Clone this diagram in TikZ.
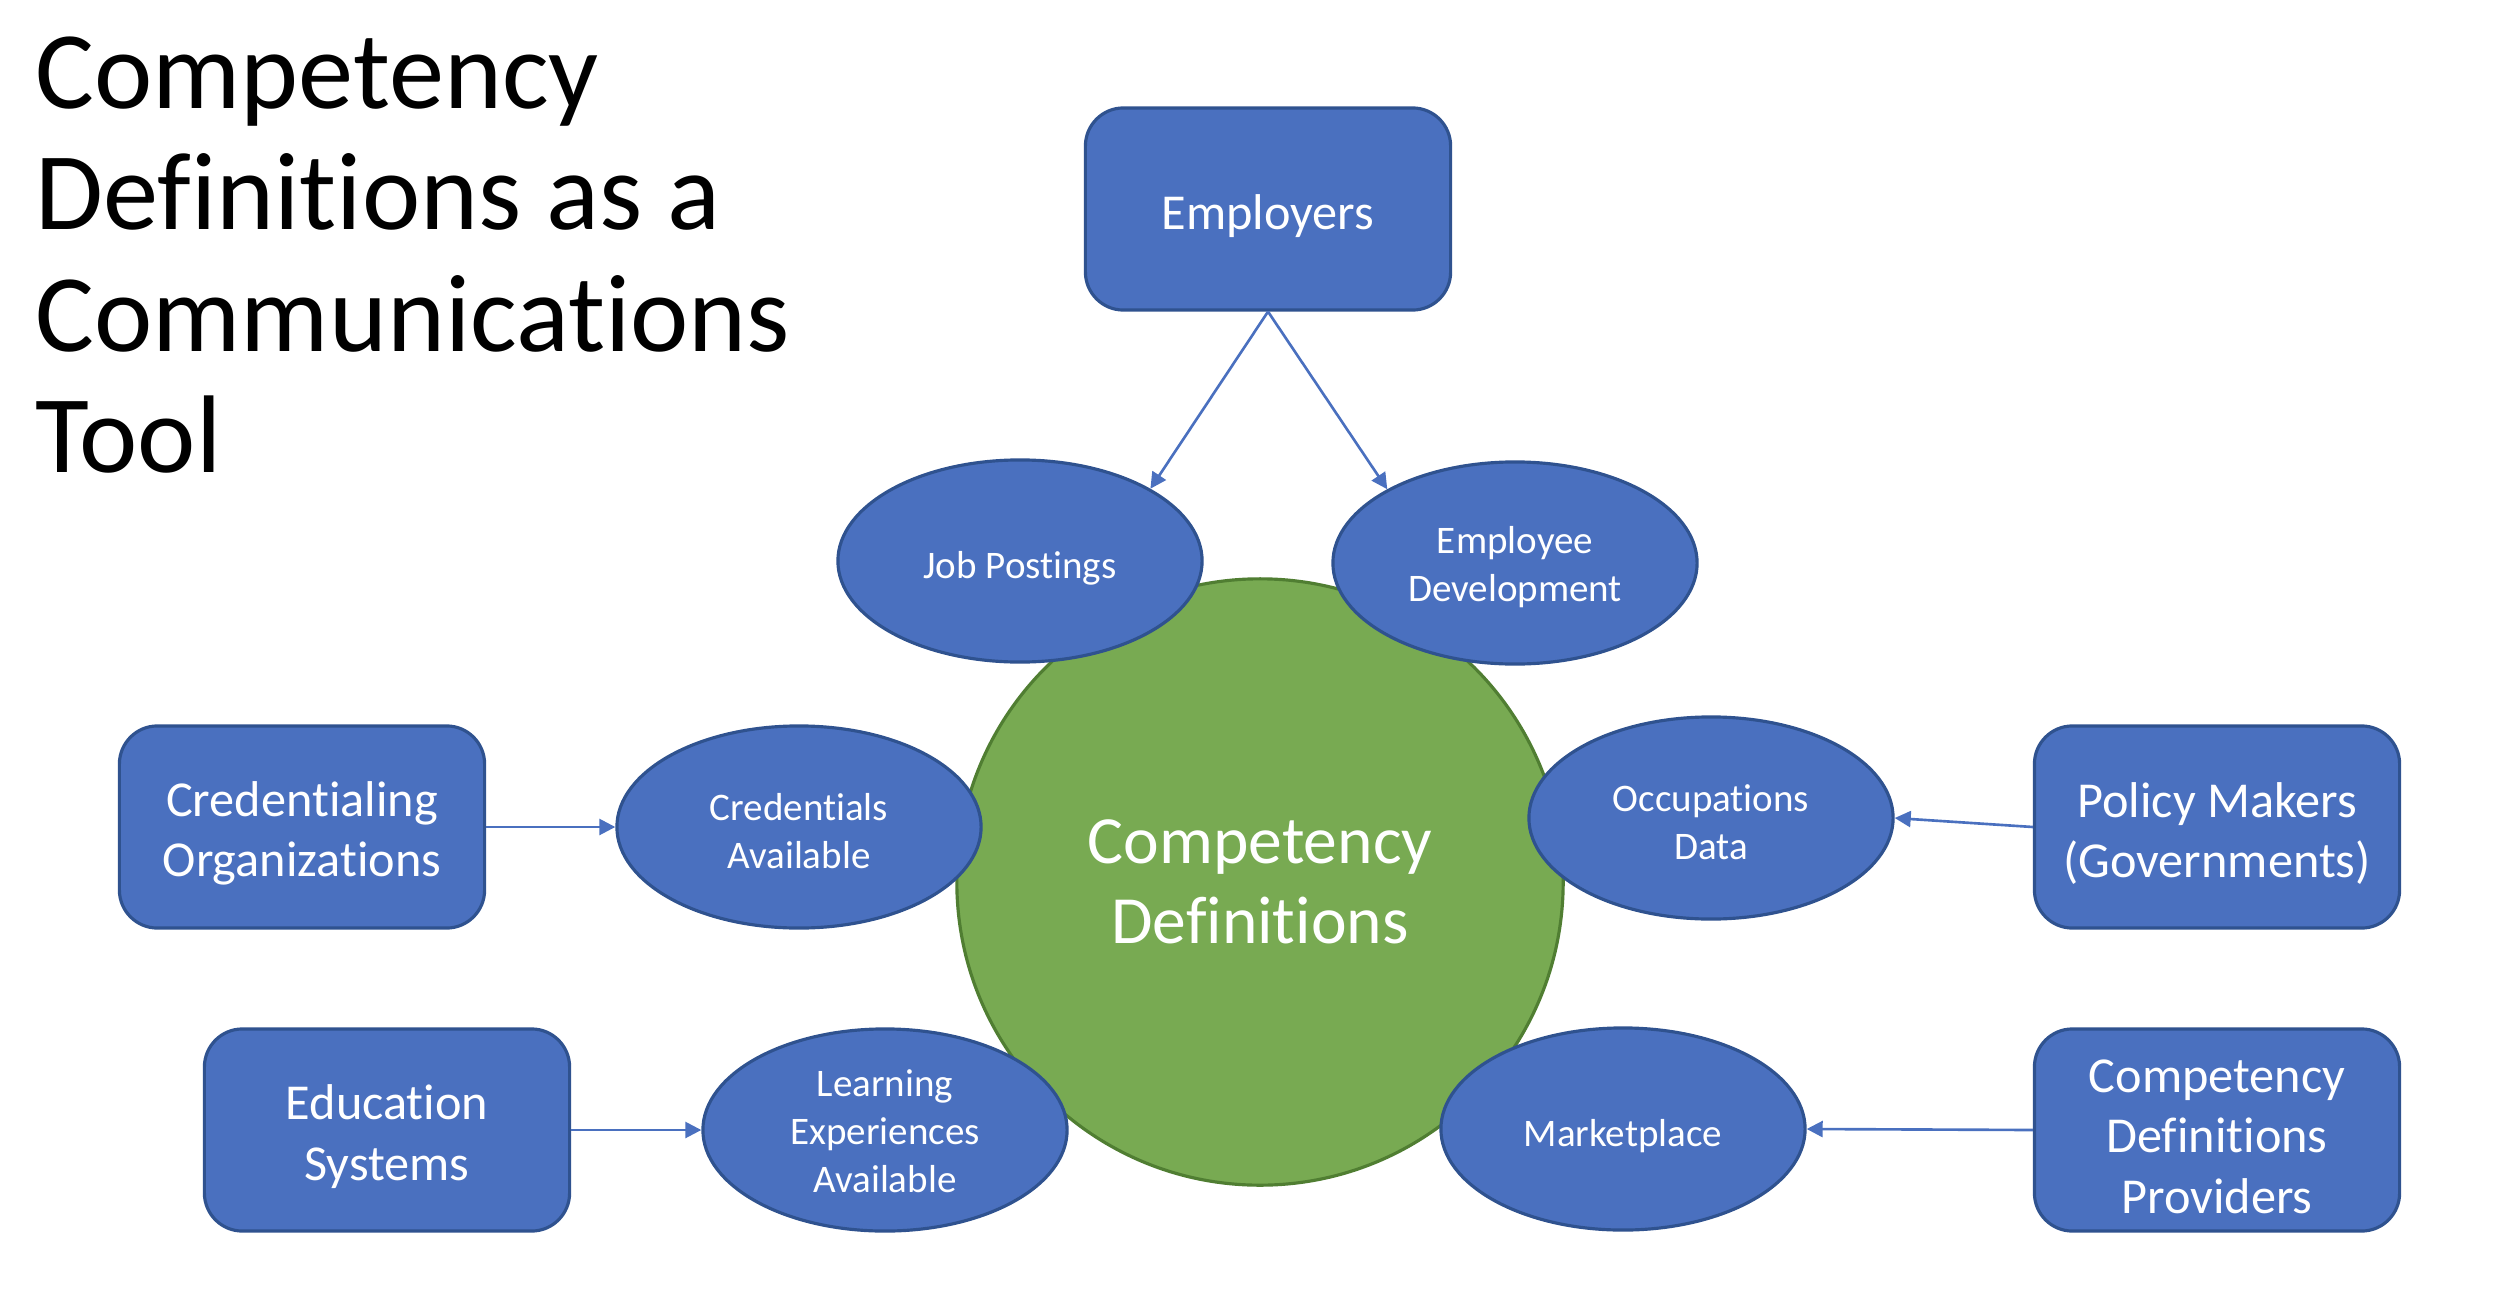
\documentclass[tikz,border=0pt]{standalone}
\usepackage{fontspec}
\setmainfont{Carlito}[Ligatures=NoCommon]
\usetikzlibrary{shapes.geometric,arrows.meta}
\definecolor{bfill}{HTML}{4A70BF}
\definecolor{bline}{HTML}{2F528F}
\definecolor{gfill}{HTML}{78AA52}
\definecolor{gline}{HTML}{507E32}
\tikzset{
  boxnode/.style={draw=bline, fill=bfill, line width=0.9pt, rounded corners=0.38cm,
    minimum width=3.65cm, minimum height=2.02cm, inner sep=0pt, align=center,
    text=white, font=\fontsize{14.3}{17.2}\selectfont,
    execute at begin node={\rule{0pt}{\dimexpr0.5cm+#1\dimexpr0.585cm\relax\relax}}},
  boxnode/.default=0,
  ellnode/.style={draw=bline, fill=bfill, line width=0.9pt, ellipse,
    minimum width=3.64cm, minimum height=2.02cm, inner sep=0pt, align=center,
    text=white, font=\fontsize{11.1}{13.6}\selectfont,
    execute at begin node={\rule{0pt}{\dimexpr0.41cm+#1\dimexpr0.42cm\relax\relax}}},
  ellnode/.default=0,
  conn/.style={draw=bfill, line width=0.75pt, -{Triangle[length=0.16cm, width=0.16cm]}},
}
\begin{document}
\begin{tikzpicture}[x=0.01cm, y=-0.01cm]
\useasboundingbox (0,0) rectangle (2500,1300);
% title
\node[anchor=north west, align=left, inner sep=0pt, font=\fontsize{31.4}{34.5}\selectfont] (title) at (35,36)
  {Competency\\Definitions as a\\Communications\\Tool};
% centre circle
\node[circle, draw=gline, fill=gfill, line width=0.9pt, minimum size=6.06cm, inner sep=0pt,
  align=center, text=white, font=\fontsize{19.2}{22.7}\selectfont] (cd) at (1260,882)
  {Competency\\Definitions};
% ellipses
\node[ellnode] (job) at (1020,561) {Job Postings};
\node[ellnode=1] (dev) at (1515,563) {Employee\\Development};
\node[ellnode=1] (cred) at (799,827) {Credentials\\Available};
\node[ellnode=1] (occ) at (1711,818) {Occupations\\Data};
\node[ellnode=2] (learn) at (885,1130) {Learning\\Experiences\\Available};
\node[ellnode] (mkt) at (1623,1129) {Marketplace};
% boxes
\node[boxnode] (emp) at (1268,209) {Employers};
\node[boxnode=1] (corg) at (302,827) {Credentialing\\Organizations};
\node[boxnode=1] (edu) at (387,1130) {Education\\Systems};
\node[boxnode=1] (pol) at (2217,827) {Policy Makers\\(Governments)};
\node[boxnode=2] (prov) at (2217,1130) {Competency\\Definitions\\Providers};
% connectors
\draw[conn] (emp.south) -- (job.29);
\draw[conn] (emp.south) -- (dev.150);
\draw[conn] (corg.east) -- (cred.west);
\draw[conn] (edu.east) -- (learn.west);
\draw[conn] (pol.west) -- (occ.east);
\draw[conn] (prov.west) -- (mkt.east);
\end{tikzpicture}
\end{document}
